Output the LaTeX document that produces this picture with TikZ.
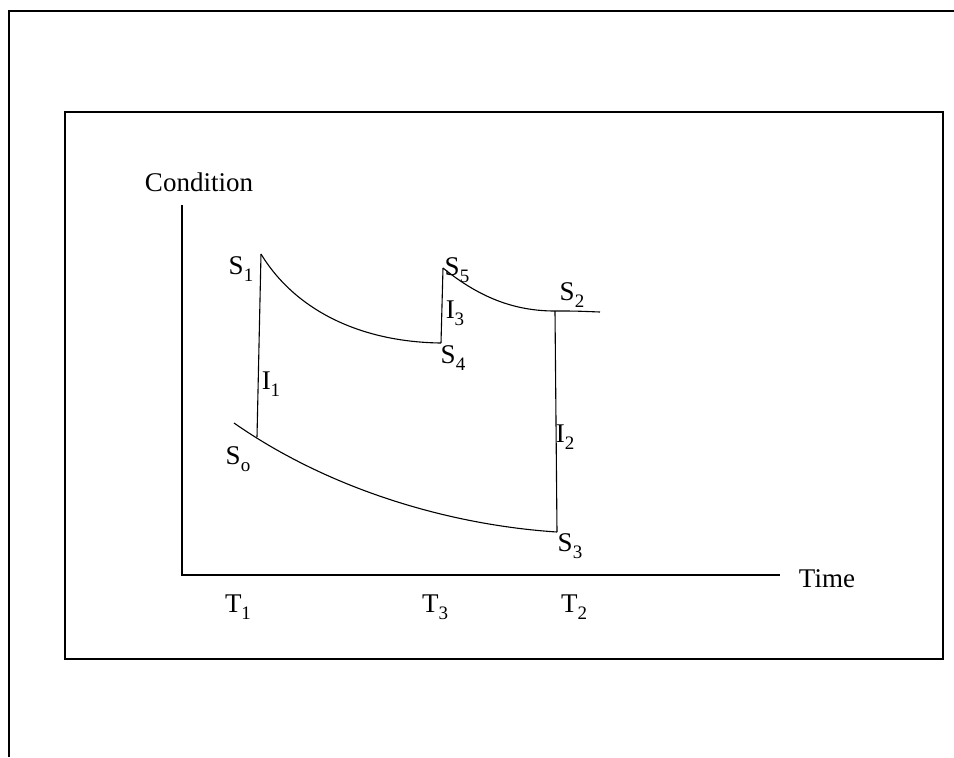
\documentclass[tikz,border=0pt]{standalone}
\usepackage{fontspec}
\setmainfont{Liberation Serif}
\tikzset{
    lbl/.style={inner sep=0pt, font=\fontsize{13.5}{16}\selectfont},
    curve/.style={line width=0.55pt},
}
\newcommand{\sub}[2]{#1\raisebox{-0.55ex}{\fontsize{9.5}{10}\selectfont #2}}
\begin{document}
\begin{tikzpicture}[x=0.5pt, y=-0.5pt]
    \useasboundingbox (0,0) rectangle (954,757);

    % frames
    \draw[line width=1pt] (954,11) -- (9,11) -- (9,757);
    \draw[line width=1.4pt] (65,112) rectangle (943,659);

    % axes
    \coordinate (origin) at (182,575);
    \coordinate (ytop) at (182,205);
    \coordinate (xend) at (780,575);
    \draw[curve] (ytop) -- (origin) -- (xend);

    % states
    \coordinate (s0) at (257,437);
    \coordinate (s1) at (261,254);
    \coordinate (s2) at (555,311);
    \coordinate (s3) at (557,532);
    \coordinate (s4) at (441,343);
    \coordinate (s5) at (443,268);
    \coordinate (c0) at (234,423);
    \coordinate (c2) at (600,312);

    \draw[curve] (c0) .. controls (330,490) and (450,525) .. (s3);
    \draw[curve] (s1) .. controls (295,310) and (360,342) .. (s4);
    \draw[curve] (s5) .. controls (480,298) and (515,311) .. (s2)
        .. controls (575,311) .. (c2);
    \draw[curve] (s0) -- (s1);
    \draw[curve] (s4) -- (s5);
    \draw[curve] (s2) -- (s3);

    % labels
    \node[lbl] (cond) at (199,182) {Condition};
    \node[lbl] (time) at (827,579) {Time};
    \node[lbl] (ls1) at (241,269) {\sub{S}{1}};
    \node[lbl] (ls0) at (238,459) {\sub{S}{o}};
    \node[lbl] (ls5) at (457,270) {\sub{S}{5}};
    \node[lbl] (ls4) at (453,358) {\sub{S}{4}};
    \node[lbl] (ls2) at (572,295) {\sub{S}{2}};
    \node[lbl] (ls3) at (570,546) {\sub{S}{3}};
    \node[lbl] (li1) at (271,384) {\sub{I}{1}};
    \node[lbl] (li3) at (455,313) {\sub{I}{3}};
    \node[lbl] (li2) at (565,437) {\sub{I}{2}};
    \node[lbl] (lt1) at (238,607) {\sub{T}{1}};
    \node[lbl] (lt3) at (435,607) {\sub{T}{3}};
    \node[lbl] (lt2) at (574,607) {\sub{T}{2}};
\end{tikzpicture}
\end{document}
